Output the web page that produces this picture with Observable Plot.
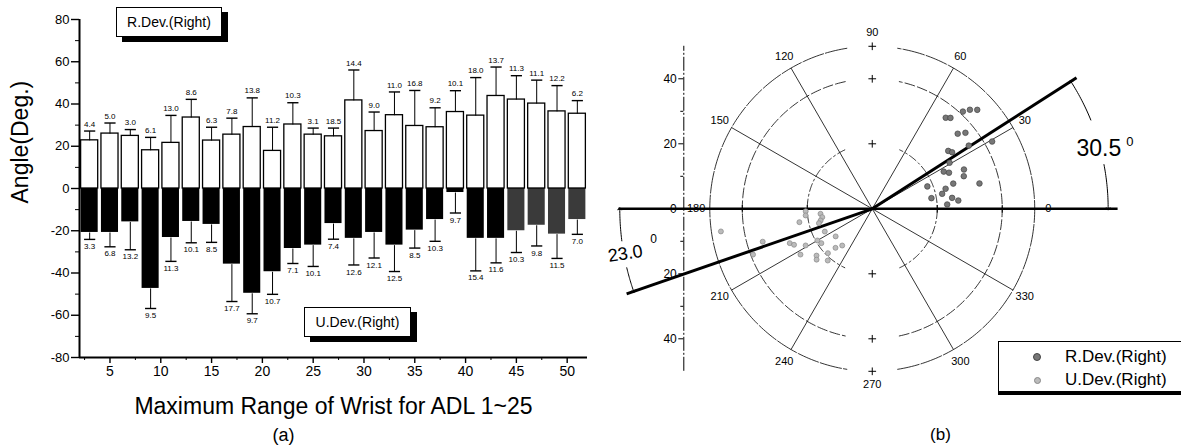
<!DOCTYPE html>
<html><head><meta charset="utf-8">
<script src="https://cdn.jsdelivr.net/npm/d3@7"></script>
<script src="https://cdn.jsdelivr.net/npm/@observablehq/plot@0.6"></script>
<style>
body{margin:0;background:#fff;}
#wrap{position:relative;width:1181px;height:448px;overflow:hidden;font-family:"Liberation Sans",Arial,sans-serif;background:#fff;}
#a{position:absolute;left:0;top:0;}
#b{position:absolute;left:590px;top:0;}
.leg{position:absolute;background:#fff;border:1px solid #000;box-sizing:border-box;color:#000;}
.legA{font-size:14px;display:flex;align-items:center;justify-content:center;box-shadow:6px 5px 0 #000;}
.mk{display:inline-block;border-radius:50%;position:absolute;}
.lt{position:absolute;font-size:17px;line-height:17px;}
</style></head><body>
<div id="wrap">
  <div id="a"></div><div id="b"></div>
  <div class="leg legA" style="left:116px;top:7px;width:106px;height:30px;">R.Dev.(Right)</div>
  <div class="leg legA" style="left:304px;top:307px;width:107px;height:30px;">U.Dev.(Right)</div>
  <div class="leg" style="left:998px;top:341px;width:190px;height:51px;box-shadow:0 3px 0 #000;">
    <span class="mk" style="left:34px;top:11px;width:6px;height:6px;background:#777;border:1px solid #444;"></span>
    <span class="lt" style="left:66px;top:6px;">R.Dev.(Right)</span>
    <span class="mk" style="left:35px;top:35px;width:5px;height:5px;background:#bbb;border:1px solid #888;"></span>
    <span class="lt" style="left:66px;top:29px;">U.Dev.(Right)</span>
  </div>
</div>
<script>
// ---------- Panel (a) data ----------
const adl    = [3,5,7,9,11,13,15,17,19,21,23,25,27,29,31,33,35,37,39,41,43,45,47,49,51];
const rMean  = [22.8,26.0,24.9,18.1,21.6,33.6,22.7,25.5,29.1,17.8,30.3,25.5,24.7,41.7,27.2,34.7,29.6,29.0,36.2,34.5,43.8,42.1,40.2,36.5,35.4];
const rSD    = [4.4,5.0,3.0,6.1,13.0,8.6,6.3,7.8,13.8,11.2,10.3,3.1,3.9,14.4,9.0,11.0,16.8,9.2,10.1,18.0,13.7,11.3,11.1,12.2,6.2];
const rLabel = ["4.4","5.0","3.0","6.1","13.0","8.6","6.3","7.8","13.8","11.2","10.3","3.1","18.5","14.4","9.0","11.0","16.8","9.2","10.1","18.0","13.7","11.3","11.1","12.2","6.2"];
const uMean  = [-20.8,-20.8,-15.8,-47.3,-23.2,-15.6,-17.0,-35.8,-49.6,-39.4,-28.4,-26.8,-16.6,-23.6,-20.8,-26.8,-19.7,-14.7,-1.9,-23.6,-23.6,-20.0,-17.4,-21.6,-14.7];
const uSD    = [3.3,6.8,13.2,9.5,11.3,10.1,8.5,17.7,9.7,10.7,7.1,10.1,7.4,12.6,12.1,12.5,8.5,10.3,9.7,15.4,11.6,10.3,9.8,11.5,7.0];
const uLabel = ["3.3","6.8","13.2","9.5","11.3","10.1","8.5","17.7","9.7","10.7","7.1","10.1","7.4","12.6","12.1","12.5","8.5","10.3","9.7","15.4","11.6","10.3","9.8","11.5","7.0"];
const xTicks = [5,10,15,20,25,30,35,40,45,50];
const yTicks = [-80,-60,-40,-20,0,20,40,60,80];
const xTitle = "Maximum Range of Wrist for ADL 1~25";
const yTitle = "Angle(Deg.)";

// ---------- Panel (b) data ----------
const rDevAngle  = [47.0,45.4,43.3,51.1,49.3,41.3,39.2,33.2,29.3,37.3,35.3,30.8,27.5,25.2,23.2,19.6,17.3,13.3,22.1,15.3,12.1,10.2,7.8,5.5,3.3];
const rDevRadius = [40.9,42.8,44.4,36.0,36.9,35.0,37.0,35.5,42.3,29.4,30.1,27.7,24.8,26.1,30.7,29.9,26.1,33.9,18.3,23.4,22.0,18.5,24.8,26.6,23.1];
const uDevAngle  = [182.1,185.7,185.5,189.5,192.8,195.1,190.4,205.6,217.0,210.0,214.0,202.6,204.7,208.8,226.7,230.7,225.0,212.5,220.0,222.4,229.3,196.7,201.0,188.5];
const uDevRadius = [20.5,20.6,16.0,15.6,16.3,17.0,22.8,16.2,14.1,19.5,18.9,27.5,26.5,23.4,16.5,14.6,19.3,26.2,22.4,23.2,21.0,35.2,39.3,47.1];
const spokeAngles = [30,60,120,150,210,240,300,330];
const angleLabels = [0,30,60,90,120,150,180,210,240,270,300,330];
const ringRadii   = [20,40,50];
const radialTicks = [-40,-20,0,20,40];
const meanAngle   = [32.7,199.1];   // drawn mean-direction lines
const meanLength  = [74.7,80.0];
const baseLine    = [-78.1,75.5];   // horizontal 0/180 line
const arcRadius   = [72.6,77.7];
const angleText   = ["30.5","23.0"];

const rad = a => a*Math.PI/180;
const font = "'Liberation Sans', Arial, sans-serif";

// ---------- Panel (a) ----------
const rows = adl.map((x,i)=>({x, rm:rMean[i], rs:rSD[i], rl:rLabel[i], um:uMean[i], us:uSD[i], ul:uLabel[i]}));
const hw = 0.84, cw = 0.55;
const panelA = Plot.plot({
  width:590, height:448, marginLeft:79, marginRight:3, marginTop:19, marginBottom:91,
  x:{domain:[2,52], label:null}, y:{domain:[-80,80], label:null},
  style:{fontFamily:font, color:"#000", background:"transparent", overflow:"visible"},
  marks:[
    Plot.rect(rows,{x1:d=>d.x-hw, x2:d=>d.x+hw, y1:0, y2:"um", fill:d=>d.x>=45?"#3a3a3a":"#000"}),
    Plot.rect(rows,{x1:d=>d.x-hw, x2:d=>d.x+hw, y1:0, y2:"rm", fill:"#fff", stroke:"#000", strokeWidth:1.3}),
    Plot.link(rows,{x1:"x", x2:"x", y1:"rm", y2:d=>d.rm+d.rs, stroke:"#000", strokeWidth:1}),
    Plot.link(rows,{x1:d=>d.x-cw, x2:d=>d.x+cw, y1:d=>d.rm+d.rs, y2:d=>d.rm+d.rs, stroke:"#000", strokeWidth:1.4}),
    Plot.link(rows,{x1:"x", x2:"x", y1:"um", y2:d=>d.um-d.us, stroke:"#000", strokeWidth:1}),
    Plot.link(rows,{x1:d=>d.x-cw, x2:d=>d.x+cw, y1:d=>d.um-d.us, y2:d=>d.um-d.us, stroke:"#000", strokeWidth:1.4}),
    Plot.text(rows,{x:"x", y:d=>d.rm+d.rs, text:"rl", dy:-7, fontSize:8, fill:"#000"}),
    Plot.text(rows,{x:"x", y:d=>d.um-d.us, text:"ul", dy:7, fontSize:8, fill:"#000"}),
    Plot.ruleX([2],{stroke:"#000", strokeWidth:2}),
    Plot.ruleY([-80],{stroke:"#000", strokeWidth:2}),
    Plot.axisY({ticks:yTicks, tickFormat:d=>String(d), tickSize:8, tickPadding:2, fontSize:13, strokeWidth:1.4}),
    Plot.axisY({ticks:d3.range(-70,71,20), tickSize:4, tickFormat:()=>""}),
    Plot.axisX({ticks:xTicks, tickSize:6, tickPadding:3, fontSize:14, strokeWidth:1.4}),
    Plot.axisX({ticks:d3.range(2.5,50,5), tickSize:3, tickFormat:()=>""}),
    Plot.text([xTitle],{text:d=>d, frameAnchor:"bottom", lineAnchor:"bottom", dy:56, fontSize:23, fill:"#000"}),
    Plot.text(["(a)"],{text:d=>d, frameAnchor:"bottom", lineAnchor:"middle", dx:-50, dy:78, fontSize:18, fill:"#000"}),
    Plot.text([yTitle],{text:d=>d, frameAnchor:"left", rotate:-90, dx:-59, dy:15, fontSize:23, fill:"#000"})
  ]
});
document.getElementById("a").append(panelA);

// ---------- Panel (b) ----------
const ringStyle = [{gap:25, dash:"8,3,2,3"},{gap:12, dash:"10,3"},{gap:9, dash:"22,2"}];
const ringMarks = ringRadii.map((r,i)=>{
  const g = ringStyle[i].gap;
  const pts = [];
  [[-90+g, 90-g],[90+g, 270-g]].forEach(([a0,a1],k)=>{
    d3.range(a0,a1,1).concat([a1]).forEach(a=>pts.push({x:r*Math.cos(rad(a)), y:r*Math.sin(rad(a)), z:k}));
  });
  return Plot.line(pts,{x:"x", y:"y", z:"z", stroke:"#000", strokeWidth:0.8, strokeDasharray:ringStyle[i].dash});
});
const arcSegs = [
  {r:arcRadius[0], a0:10.8, a1:0}, {r:arcRadius[0], a0:22.1, a1:meanAngle[0]},
  {r:arcRadius[1], a0:187.3, a1:180}, {r:arcRadius[1], a0:193.5, a1:meanAngle[1]}
];
const arcPts = [];
arcSegs.forEach((s,k)=>{
  const n = 20;
  d3.range(n+1).forEach(j=>{const a = s.a0+(s.a1-s.a0)*j/n; arcPts.push({x:s.r*Math.cos(rad(a)), y:s.r*Math.sin(rad(a)), z:k});});
});
const rDev = rDevAngle.map((a,i)=>({a, r:rDevRadius[i]}));
const uDev = uDevAngle.map((a,i)=>({a, r:uDevRadius[i]}));
const crossPts = [[0,20],[0,40],[0,-20],[0,-40],[20,0],[40,0],[-20,0],[-40,0],[0,50],[0,-50]];
const means = meanAngle.map((a,i)=>({a, len:meanLength[i]}));

const panelB = Plot.plot({
  width:591, height:448, marginLeft:93.3, marginRight:0, marginTop:0, marginBottom:0,
  x:{domain:[-58,95.17], label:null, axis:null}, y:{domain:[-73.75,64.09], label:null},
  style:{fontFamily:font, color:"#000", background:"transparent", overflow:"visible"},
  marks:[
    ...ringMarks,
    Plot.link(spokeAngles,{x1:0, y1:0, x2:a=>50*Math.cos(rad(a)), y2:a=>50*Math.sin(rad(a)), stroke:"#000", strokeWidth:0.8}),
    Plot.dot(crossPts,{x:d=>d[0], y:d=>d[1], symbol:"plus", r:2.6, stroke:"#000", strokeWidth:1}),
    Plot.ruleX([-58],{y1:-50, y2:50, stroke:"#000", strokeWidth:1, strokeDasharray:"14,2,2,2"}),
    Plot.axisY({ticks:radialTicks, tickFormat:d=>String(Math.abs(d)), tickSize:5, tickPadding:2, fontSize:12}),
    Plot.axisY({ticks:[-30,-10,10,30], tickSize:3, tickFormat:()=>""}),
    Plot.text(angleLabels,{x:a=>54.2*Math.cos(rad(a)), y:a=>54.2*Math.sin(rad(a)), text:a=>String(a), fontSize:11, fill:"#000"}),
    Plot.link(baseLine.slice(0,1),{x1:baseLine[0], x2:baseLine[1], y1:0, y2:0, stroke:"#000", strokeWidth:2.6}),
    Plot.link(means,{x1:0, y1:0, x2:d=>d.len*Math.cos(rad(d.a)), y2:d=>d.len*Math.sin(rad(d.a)), stroke:"#000", strokeWidth:3}),
    Plot.line(arcPts,{x:"x", y:"y", z:"z", stroke:"#000", strokeWidth:1, markerEnd:"arrow"}),
    Plot.dot(rDev,{x:d=>d.r*Math.cos(rad(d.a)), y:d=>d.r*Math.sin(rad(d.a)), r:2.8, fill:"#777", stroke:"#444", strokeWidth:0.7}),
    Plot.dot(uDev,{x:d=>d.r*Math.cos(rad(d.a)), y:d=>d.r*Math.sin(rad(d.a)), r:2.5, fill:"#bbb", stroke:"#888", strokeWidth:0.7}),
    Plot.text([angleText[0]],{text:d=>d, x:62.86, y:16.1, textAnchor:"start", lineAnchor:"bottom", fontSize:23, fill:"#000"}),
    Plot.text(["0"],{text:d=>d, x:78.2, y:19.3, textAnchor:"start", lineAnchor:"bottom", fontSize:13, fill:"#000"}),
    Plot.text([angleText[1]],{text:d=>d, x:-70.4, y:-14.7, textAnchor:"end", lineAnchor:"bottom", rotate:-9, fontSize:18, fill:"#000"}),
    Plot.text(["0"],{text:d=>d, x:-68.3, y:-10.4, textAnchor:"start", lineAnchor:"bottom", fontSize:12, fill:"#000"}),
    Plot.text(["(b)"],{text:d=>d, x:21, y:-69.6, fontSize:17, fill:"#000"})
  ]
});
document.getElementById("b").append(panelB);
</script>
</body></html>
